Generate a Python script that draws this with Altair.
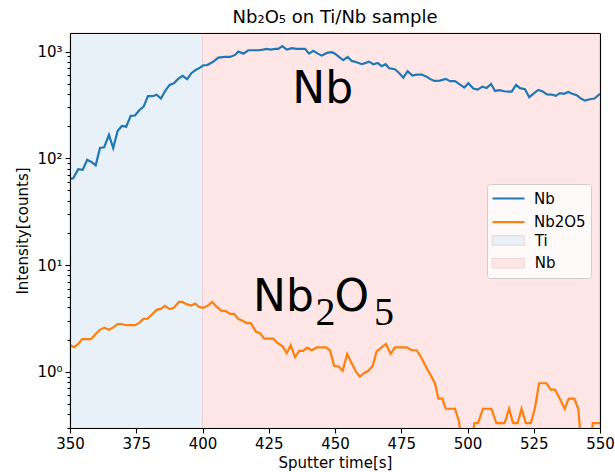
import altair as alt
import pandas as pd

# ---------------- data ----------------
nb_time = [350.0, 351.2, 353.1, 354.8, 356.5, 358.2, 359.7, 361.3, 362.9, 364.7,
           366.3, 368.0, 369.6, 371.2, 372.9, 374.5, 376.2, 377.8, 379.4, 381.1,
           382.7, 384.3, 386.0, 387.6, 389.2, 390.9, 392.5, 394.2, 395.8, 397.4,
           399.1, 400.3, 401.8, 404.1, 406.0, 408.5, 410.4, 412.3, 413.5, 415.4,
           417.3, 419.2, 421.1, 422.9, 424.2, 425.8, 427.4, 428.6, 430.1, 431.8,
           433.7, 435.5, 437.4, 438.7, 440.2, 441.8, 443.5, 445.0, 446.9, 448.8,
           450.0, 451.5, 453.1, 454.8, 456.3, 458.2, 460.1, 461.6, 462.8, 464.5,
           466.1, 467.6, 469.1, 470.4, 472.6, 474.2, 475.8, 477.4, 479.2, 480.8,
           482.7, 484.6, 485.8, 487.5, 489.6, 491.8, 493.4, 495.3, 497.2, 498.8,
           500.3, 502.2, 503.8, 505.6, 507.2, 508.9, 510.4, 512.0, 513.9, 515.4,
           516.7, 518.3, 519.8, 521.7, 523.3, 524.8, 526.7, 528.4, 530.0, 531.8,
           533.3, 534.9, 536.5, 538.0, 539.5, 541.2, 542.8, 544.3, 546.2, 547.9,
           550.0]
nb_counts = [64, 65, 79, 78, 97, 92, 86, 125, 127, 166,
             125, 181, 201, 198, 250, 252, 284, 305, 382, 382,
             395, 363, 431, 488, 505, 558, 592, 551, 628, 673,
             708, 745, 748, 806, 879, 892, 892, 931, 1000, 957,
             1030, 1030, 1030, 1044, 1060, 1044, 1060, 1060, 1124, 1044,
             1076, 1060, 1060, 1060, 957, 1015, 957, 917, 972, 987,
             957, 892, 830, 892, 818, 796, 762, 784, 806, 762,
             784, 730, 762, 698, 684, 630, 570, 655, 596, 609,
             609, 583, 555, 531, 535, 555, 528, 528, 491, 460,
             506, 450, 440, 470, 456, 498, 428, 435, 425, 422,
             422, 488, 454, 444, 374, 402, 437, 422, 398, 396,
             385, 408, 402, 419, 402, 390, 363, 347, 358, 363,
             402]

ox_time = [350.0, 351.6, 353.1, 354.6, 356.3, 357.9, 359.7, 361.3, 362.9, 364.6,
           366.2, 368.0, 369.5, 371.0, 372.8, 374.5, 376.0, 377.7, 379.3, 381.1,
           382.7, 384.3, 385.8, 387.6, 389.1, 391.1, 392.4, 394.0, 395.7, 397.2,
           398.7, 400.3, 402.0, 403.7, 405.4, 407.0, 408.8, 410.4, 412.0, 413.5,
           415.0, 416.7, 418.3, 420.1, 421.7, 423.3, 425.1, 426.7, 428.2, 430.3,
           431.8, 433.3, 434.9, 436.5, 438.0, 439.5, 441.2, 443.1, 445.0, 446.6,
           448.1, 449.7, 451.4, 452.9, 454.6, 456.3, 457.9, 459.4, 460.9, 462.6,
           464.2, 465.7, 467.6, 469.2, 471.0, 472.6, 474.5, 477.1, 478.9, 480.8,
           482.7, 484.6, 486.5, 487.7, 489.0, 490.5, 491.8, 493.4, 495.3, 496.8,
           498.6, 500.9, 502.6, 504.0, 505.8, 509.0, 510.9, 514.0, 515.7, 517.2,
           518.9, 520.4, 522.0, 523.9, 525.4, 527.0, 529.8, 531.4, 533.0, 534.8,
           536.7, 538.2, 540.3, 541.8, 543.4, 545.6, 547.3, 550.0]
ox_counts = [1.78, 1.70, 1.82, 2.02, 2.02, 2.02, 2.26, 2.47, 2.59, 2.47,
             2.59, 2.80, 2.80, 2.73, 2.73, 2.73, 2.85, 3.13, 3.15, 3.48,
             3.80, 3.88, 4.14, 3.86, 3.95, 4.51, 4.51, 4.30, 4.17, 4.36,
             4.05, 3.96, 4.16, 4.51, 4.05, 3.74, 3.70, 3.48, 3.48, 3.11,
             3.02, 2.85, 2.85, 2.38, 2.30, 2.04, 2.04, 2.04, 1.87, 1.72,
             1.49, 1.78, 1.37, 1.57, 1.57, 1.68, 1.59, 1.69, 1.69, 1.69,
             1.59, 1.13, 1.12, 1.02, 1.47, 1.20, 1.00, 0.90, 0.97, 1.02,
             1.13, 1.55, 1.69, 1.82, 1.47, 1.69, 1.69, 1.69, 1.59, 1.59,
             1.34, 1.08, 0.89, 0.78, 0.56, 0.56, 0.45, 0.45, 0.45, 0.34,
             0.15, 0.15, 0.33, 0.33, 0.45, 0.45, 0.33, 0.33, 0.45, 0.33,
             0.33, 0.45, 0.33, 0.33, 0.45, 0.78, 0.78, 0.68, 0.68, 0.56,
             0.45, 0.56, 0.56, 0.45, 0.15, 0.15, 0.33, 0.33]

series_names = ["Nb", "Nb2O5"]
series_colors = ["#1f77b4", "#ff7f0e"]

region_names = ["Ti", "Nb"]
region_start = [350, 400]
region_end = [400, 550]
region_colors = ["#e9f1f8", "#ffe6e6"]

x_ticks = [350, 375, 400, 425, 450, 475, 500, 525, 550]
y_major = [1, 10, 100, 1000]
y_major_labels = ["10⁰", "10¹", "10²", "10³"]
y_minor = [0.3, 0.4, 0.5, 0.6, 0.7, 0.8, 0.9,
           2, 3, 4, 5, 6, 7, 8, 9,
           20, 30, 40, 50, 60, 70, 80, 90,
           200, 300, 400, 500, 600, 700, 800, 900]

ann_main_text = ["Nb", "Nb", "O"]
ann_main_time = [433.9, 419.1, 449.8]
ann_main_value = [328, 3.71, 3.71]
ann_sub_text = ["2", "5"]
ann_sub_time = [442.6, 464.7]
ann_sub_value = [2.73, 2.73]

# ---------------- tables ----------------
nb_df = pd.DataFrame({"time": nb_time, "counts": nb_counts, "series": series_names[0]})
ox_df = pd.DataFrame({"time": ox_time, "counts": ox_counts, "series": series_names[1]})
reg_df = pd.DataFrame({"start": region_start, "end": region_end, "region": region_names})
main_df = pd.DataFrame({"time": ann_main_time, "counts": ann_main_value, "label": ann_main_text})
sub_df = pd.DataFrame({"time": ann_sub_time, "counts": ann_sub_value, "label": ann_sub_text})

FONT = "DejaVu Sans"
xscale = alt.Scale(domain=[350, 550], nice=False, zero=False)
yscale = alt.Scale(type="log", domain=[0.297, 1494], nice=False)

label_expr = " : ".join(
    f"datum.value == {v} ? '{t}'" for v, t in zip(y_major, y_major_labels)
) + " : ''"

common_axis = dict(grid=False, zindex=1, domainColor="black", domainWidth=1.1,
                   tickColor="black", tickWidth=1.1, labelColor="black",
                   labelFont=FONT, labelFontSize=15, titleFont=FONT,
                   titleFontSize=15, titleFontWeight="normal", titleColor="black")

x_bottom = alt.Axis(orient="bottom", values=x_ticks, format="d", tickSize=5,
                    labelPadding=3, labelFlush=False, labelOverlap=False,
                    title="Sputter time[s]", titlePadding=4, **common_axis)
x_top = alt.Axis(orient="top", ticks=False, labels=False, title=None, **common_axis)
y_left_major = alt.Axis(orient="left", values=y_major, labelExpr=label_expr,
                        tickSize=5, labelPadding=3, title="Intensity[counts]",
                        titlePadding=6, **common_axis)
y_left_minor = alt.Axis(orient="left", values=y_minor, labels=False, tickSize=3,
                        domain=False, title=None, **common_axis)
y_right = alt.Axis(orient="right", ticks=False, labels=False, title=None, **common_axis)

legend_lines = alt.Legend(orient="none", legendX=417, legendY=151, title=" ",
                          titleOrient="bottom", titleFontSize=30, titlePadding=13,
                          padding=5, strokeColor="#d3cdcd", fillColor="#fffafa",
                          cornerRadius=3, symbolType="M-2,0H2", symbolSize=256,
                          symbolStrokeWidth=2.2, symbolOffset=7, labelOffset=16,
                          labelFont=FONT, labelFontSize=15, labelColor="black",
                          rowPadding=5.7, zindex=0)
legend_regions = alt.Legend(orient="none", legendX=417, legendY=194, title=None,
                            padding=5, symbolType="M-2,-0.6H2V0.6H-2Z", symbolSize=256,
                            symbolStrokeWidth=1, symbolOffset=7.7, labelOffset=18,
                            labelFont=FONT, labelFontSize=15, labelColor="black",
                            rowPadding=5.7, zindex=1)

stroke_scale = alt.Scale(domain=series_names, range=series_colors)

regions = alt.Chart(reg_df).mark_rect(stroke="#f0d2d6", strokeWidth=1).encode(
    x=alt.X("start:Q", scale=xscale, axis=x_bottom),
    x2="end:Q",
    fill=alt.Fill("region:N", scale=alt.Scale(domain=region_names, range=region_colors),
                  legend=legend_regions),
)

nb_line = alt.Chart(nb_df).mark_line(clip=True, strokeWidth=2.2).encode(
    x=alt.X("time:Q", scale=xscale, axis=x_top),
    y=alt.Y("counts:Q", scale=yscale, axis=y_left_major),
    stroke=alt.Stroke("series:N", scale=stroke_scale, legend=legend_lines),
)

ox_line = alt.Chart(ox_df).mark_line(clip=True, strokeWidth=2.2).encode(
    x=alt.X("time:Q", scale=xscale, axis=None),
    y=alt.Y("counts:Q", scale=yscale, axis=y_left_minor),
    stroke=alt.Stroke("series:N", scale=stroke_scale, legend=legend_lines),
)

main_text = alt.Chart(main_df).mark_text(align="left", baseline="alphabetic",
                                         font=FONT, fontSize=44, color="black").encode(
    x=alt.X("time:Q", scale=xscale, axis=None),
    y=alt.Y("counts:Q", scale=yscale, axis=y_right),
    text="label:N",
)

sub_text = alt.Chart(sub_df).mark_text(align="left", baseline="alphabetic",
                                       font="Liberation Serif", fontSize=40,
                                       color="black").encode(
    x=alt.X("time:Q", scale=xscale, axis=None),
    y=alt.Y("counts:Q", scale=yscale, axis=None),
    text="label:N",
)

chart = alt.layer(regions, nb_line, ox_line, main_text, sub_text).resolve_axis(
    x="independent", y="independent"
).properties(
    width=530, height=395,
    autosize=alt.AutoSizeParams(type="none"),
    padding={"left": 70, "top": 33, "right": 15, "bottom": 44},
    title=alt.TitleParams("Nb₂O₅ on Ti/Nb sample", font=FONT, fontSize=18,
                          fontWeight="normal", color="black", anchor="middle", offset=6),
    background="white",
).configure_view(stroke=None)

chart.save("out.html", embed_options={"renderer": "svg", "actions": False})
